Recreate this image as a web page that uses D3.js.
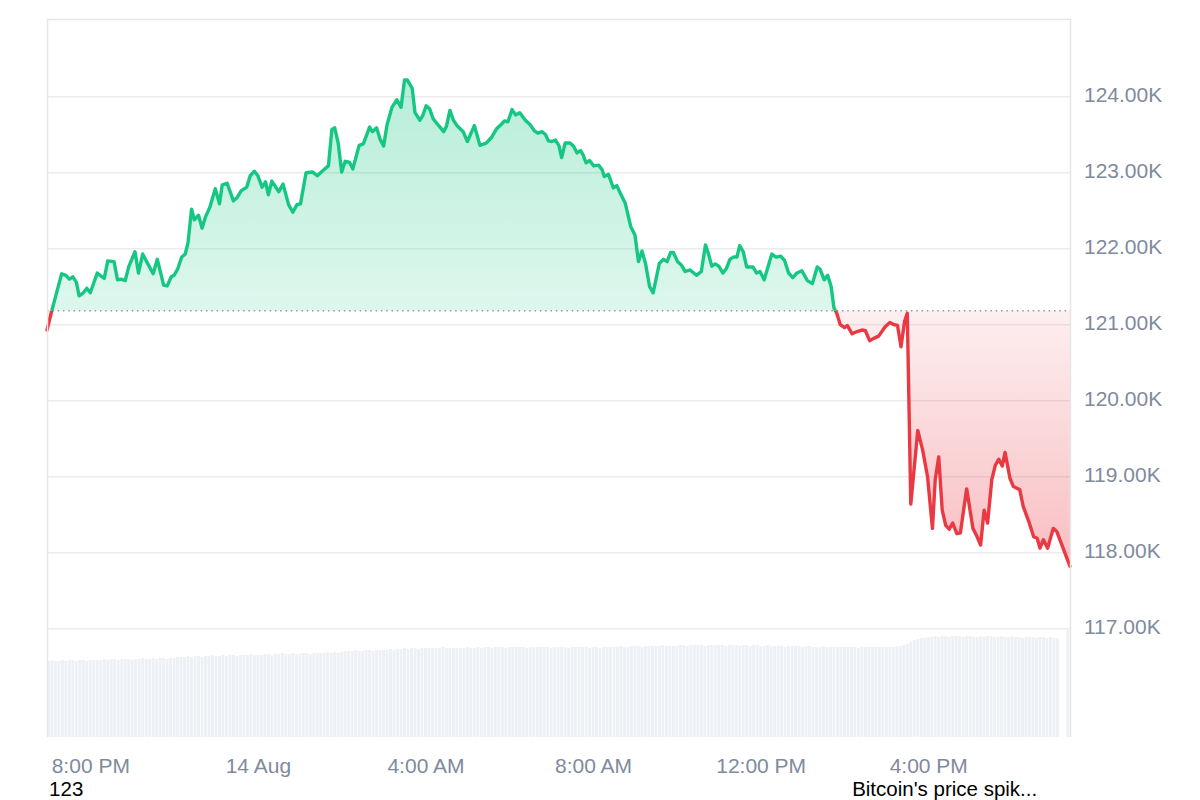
<!DOCTYPE html>
<html>
<head>
<meta charset="utf-8">
<script src="https://cdn.jsdelivr.net/npm/d3@7/dist/d3.min.js"></script>
<style>
  html, body { margin: 0; padding: 0; background: #ffffff; }
  svg { display: block; }
</style>
</head>
<body>
<svg id="chart" width="1200" height="800"></svg>
<script>
// ---------------- DATA ----------------
// Minutes relative to 13 Aug 2025, 8:00 PM
const minutes = [
  -62,-55,-50,-41,-35,-30,-25,-20,-16,-10,-5,0,10,14,20,25,34,39,44,50,
  55,64,69,75,83,90,96,105,110,116,120,125,131,136,140,145,149,155,160,165,
  171,179,185,189,196,205,210,216,224,229,235,240,246,251,255,260,270,276,284,290,
  296,301,309,318,325,332,341,346,350,355,360,365,371,376,385,391,400,404,410,415,
  420,425,432,439,445,450,454,461,465,472,476,481,486,491,496,500,506,510,515,520,
  526,534,540,550,558,567,575,582,588,593,598,604,609,615,623,630,636,641,647,652,
  656,661,666,671,675,680,687,692,697,702,706,710,715,721,728,733,736,742,749,754,
  759,766,774,780,785,790,795,801,806,815,821,826,831,835,841,846,852,859,868,875,
  881,885,890,895,900,906,911,916,921,926,930,935,940,949,954,959,965,976,982,989,
  994,1000,1006,1012,1019,1027,1034,1041,1045,1051,1056,1061,1065,1069,1074,1080,1084,1091,1098,1105,
  1110,1116,1122,1129,1138,1145,1151,1156,1161,1166,1170,1175,1185,1192,1199,1206,1210,1215,1220,1225,
  1230,1235,1241,1246,1255,1264,1270,1275,1280,1285,1291,1296,1301,1306,1310,1317,1322,1331,1336,1344,
  1351,1356,1360,1365,1371,1379,1384,1403
];

// BTC price, USD
const prices = [
  120930,121190,121360,121670,121650,121600,121630,121560,121380,121420,121480,121420,121680,121650,121610,121840,121830,121590,121600,121580,
  121760,121960,121680,121930,121790,121670,121860,121520,121510,121630,121650,121730,121890,121930,122080,122520,122380,122440,122270,122420,
  122540,122790,122590,122840,122860,122630,122670,122760,122810,122960,123020,122960,122810,122880,122710,122890,122750,122850,122580,122480,
  122580,122590,123000,123010,122960,123020,123090,123570,123590,123390,123010,123150,123140,123050,123360,123380,123600,123540,123590,123440,
  123350,123630,123860,123960,123860,124220,124220,124110,123790,123690,123750,123880,123840,123710,123650,123610,123540,123610,123820,123690,
  123610,123540,123410,123620,123360,123390,123470,123580,123630,123680,123670,123830,123760,123790,123690,123630,123550,123520,123540,123500,
  123420,123410,123430,123360,123200,123390,123390,123350,123260,123290,123230,123130,123160,123090,123100,123040,122950,122980,122800,122830,
  122730,122600,122290,122180,121830,121970,121810,121500,121420,121810,121860,121830,121950,121950,121830,121790,121700,121720,121650,121700,
  122050,121940,121770,121800,121770,121680,121740,121860,121890,121890,122040,121960,121760,121760,121680,121700,121590,121930,121890,121900,
  121850,121680,121620,121680,121710,121580,121540,121760,121730,121590,121650,121500,121220,121150,121000,120960,120990,120880,120910,120930,
  120920,120790,120820,120850,120970,121030,121000,120990,120710,121040,121150,118640,119610,119350,119000,118320,118960,119260,118560,118360,
  118310,118390,118250,118260,118840,118320,118210,118100,118560,118390,118960,119150,119230,119140,119320,118980,118870,118830,118610,118410,
  118210,118190,118060,118170,118060,118320,118280,117820
];

// Reference (opening) price shown by the dotted line
const baselinePrice = 121184;

// Volume bars, USD billions, one bar every 5 minutes from minute -60
const volumeStartMinute = -60;
const volumeStepMinutes = 5;
const volumes = [
  76,77,76,76,77,76,77,77,76,77,77,76,77,77,77,
  77,78,77,78,78,77,78,78,78,77,78,78,79,78,78,79,78,79,79,78,79,79,80,
  80,80,81,80,81,81,80,81,81,82,81,81,82,81,82,82,81,82,82,82,83,82,82,
  82,83,83,82,83,83,84,83,83,84,83,83,84,84,83,84,84,84,84,85,84,85,84,85,
  86,86,86,87,86,86,87,87,86,87,87,87,87,88,87,88,
  88,89,88,89,89,88,89,89,89,89,89,89,90,89,89,89,89,89,89,90,
  89,89,90,89,90,90,89,90,90,90,89,90,90,90,90,90,89,90,90,90,90,90,90,89,90,90,90,90,89,90,90,90,90,90,89,90,90,
  89,90,90,90,90,90,91,90,90,91,91,91,90,91,91,91,91,91,92,91,91,91,91,
  92,92,91,92,92,92,92,91,92,92,92,92,92,91,92,92,92,91,92,92,91,92,92,91,91,92,91,91,91,91,90,91,91,91,
  91,90,91,91,90,90,90,91,90,90,90,90,90,90,90,90,90,89,90,90,90,90,90,90,90,90,90,90,91,
  91,92,93,95,97,98,99,99,
  100,100,101,100,101,101,100,101,101,101,100,101,101,100,100,101,100,101,101,100,100,101,100,100,101,100,100,99,100,100,100,99,100,100,99,100,99,99,
  0,0,107
];

const yTicks = [117000, 118000, 119000, 120000, 121000, 122000, 123000, 124000];
const xTickMinutes = [0, 240, 480, 720, 960, 1200];
const footnoteTexts = ["123", "Bitcoin's price spik..."];
const footnoteMinutes = [-59, 1091];

// ---------------- CHART ----------------
const t0 = new Date(2025, 7, 13, 20, 0, 0);
const toDate = m => new Date(t0.getTime() + m * 60000);

const W = 1200, H = 800;
const plot = { left: 47, right: 1070, top: 19, bottom: 737 };
const GREEN = "#16c784", RED = "#ea3943";
const LABEL = "#808a9d";
const FONT = "'Liberation Sans', Arial, Helvetica, sans-serif";

const svg = d3.select("#chart");

const x = d3.scaleTime()
  .domain([toDate(minutes[0]), toDate(minutes[minutes.length - 1])])
  .range([plot.left, plot.right]);

const y = d3.scaleLinear()
  .domain([117000, 124000])
  .range([628.7, 96.7]);

const yVol = d3.scaleLinear()
  .domain([0, 110])
  .range([plot.bottom, 627]);

const data = minutes.map((m, i) => ({ t: toDate(m), p: prices[i] }));
const yBase = y(baselinePrice);

// defs: gradients + clips
const defs = svg.append("defs");
const gGrad = defs.append("linearGradient").attr("id", "gGrad")
  .attr("gradientUnits", "userSpaceOnUse")
  .attr("x1", 0).attr("x2", 0).attr("y1", y(124200)).attr("y2", yBase);
gGrad.append("stop").attr("offset", 0).attr("stop-color", GREEN).attr("stop-opacity", 0.31);
gGrad.append("stop").attr("offset", 1).attr("stop-color", GREEN).attr("stop-opacity", 0.14);

const rGrad = defs.append("linearGradient").attr("id", "rGrad")
  .attr("gradientUnits", "userSpaceOnUse")
  .attr("x1", 0).attr("x2", 0).attr("y1", yBase).attr("y2", y(117820));
rGrad.append("stop").attr("offset", 0).attr("stop-color", RED).attr("stop-opacity", 0.08);
rGrad.append("stop").attr("offset", 1).attr("stop-color", RED).attr("stop-opacity", 0.33);

defs.append("clipPath").attr("id", "clipAbove").append("rect")
  .attr("x", 0).attr("y", 0).attr("width", W).attr("height", yBase);
defs.append("clipPath").attr("id", "clipBelow").append("rect")
  .attr("x", 0).attr("y", yBase).attr("width", W).attr("height", H - yBase);

// gridlines
svg.append("g").selectAll("line").data(yTicks).join("line")
  .attr("x1", plot.left).attr("x2", plot.right)
  .attr("y1", d => y(d)).attr("y2", d => y(d))
  .attr("stroke", "#ececec").attr("stroke-width", 1.5);

// volume bars
const step = x(toDate(volumeStepMinutes)) - x(toDate(0));
svg.append("g").selectAll("rect").data(volumes).join("rect")
  .attr("x", (d, i) => x(toDate(volumeStartMinute + i * volumeStepMinutes)) - step / 2 + 0.3)
  .attr("width", step - 0.6)
  .attr("y", d => yVol(d))
  .attr("height", d => plot.bottom - yVol(d))
  .attr("fill", "#edf0f4");

// areas
const area = d3.area()
  .x(d => x(d.t))
  .y0(yBase)
  .y1(d => y(d.p));

svg.append("path").datum(data)
  .attr("d", area).attr("fill", "url(#gGrad)")
  .attr("clip-path", "url(#clipAbove)");
svg.append("path").datum(data)
  .attr("d", area).attr("fill", "url(#rGrad)")
  .attr("clip-path", "url(#clipBelow)");

// dotted baseline
svg.append("line")
  .attr("x1", plot.left).attr("x2", plot.right)
  .attr("y1", yBase).attr("y2", yBase)
  .attr("stroke", "#999999").attr("stroke-width", 1.5)
  .attr("stroke-dasharray", "1.5,3.8");

// lines
const line = d3.line().x(d => x(d.t)).y(d => y(d.p));
svg.append("path").datum(data)
  .attr("d", line).attr("fill", "none").attr("stroke", GREEN)
  .attr("stroke-width", 3.4).attr("stroke-linejoin", "round").attr("stroke-linecap", "round")
  .attr("clip-path", "url(#clipAbove)");
svg.append("path").datum(data)
  .attr("d", line).attr("fill", "none").attr("stroke", RED)
  .attr("stroke-width", 3.4).attr("stroke-linejoin", "round").attr("stroke-linecap", "round")
  .attr("clip-path", "url(#clipBelow)");

// plot borders
svg.append("path")
  .attr("d", `M${plot.left + 0.5},${plot.bottom}V${plot.top + 0.5}H${plot.right + 0.5}V${plot.bottom}`)
  .attr("fill", "none").attr("stroke", "#e6e6e6").attr("stroke-width", 1.5);

// y axis (right)
const yAxis = d3.axisRight(y)
  .tickValues(yTicks)
  .tickSize(0)
  .tickPadding(14)
  .tickFormat(d => (d / 1000).toFixed(2) + "K");
const gy = svg.append("g").attr("transform", `translate(${plot.right},0)`).call(yAxis);
gy.select(".domain").remove();
gy.selectAll("text")
  .attr("dy", "0.25em")
  .style("font-family", FONT).style("font-size", "21px").attr("fill", LABEL);

// x axis (bottom)
const fmtTime = d3.timeFormat("%-I:%M %p");
const fmtDay = d3.timeFormat("%-d %b");
const xAxis = d3.axisBottom(x)
  .tickValues(xTickMinutes.map(toDate))
  .tickSize(0)
  .tickPadding(20.6)
  .tickFormat(d => (d.getHours() === 0 && d.getMinutes() === 0) ? fmtDay(d) : fmtTime(d));
const gx = svg.append("g").attr("transform", `translate(0,${plot.bottom})`).call(xAxis);
gx.select(".domain").remove();
gx.selectAll("text")
  .style("font-family", FONT).style("font-size", "21px").attr("fill", LABEL);

// footnote labels (kept fully inside the canvas, clear of the axis labels)
svg.append("g").selectAll("text").data(footnoteTexts).join("text")
  .attr("x", (d, i) => x(toDate(footnoteMinutes[i])))
  .attr("y", 795.6)
  .style("font-family", FONT).style("font-size", "20.5px")
  .attr("fill", "#000000")
  .text(d => d);
</script>
</body>
</html>
